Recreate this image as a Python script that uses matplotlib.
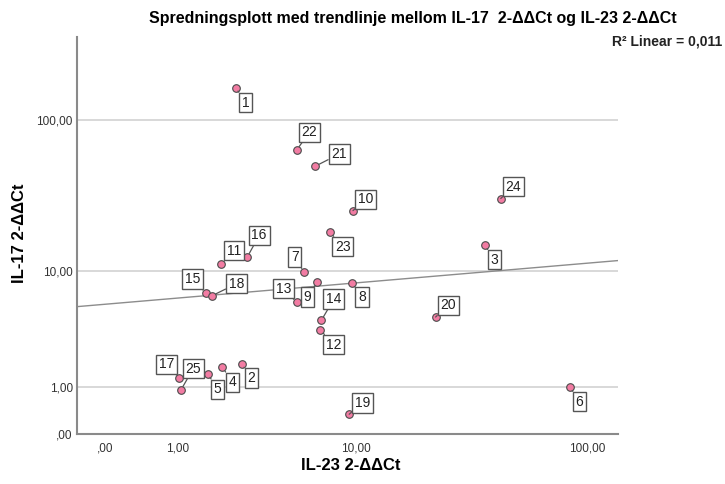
import matplotlib.pyplot as plt
import numpy as np

plt.rcParams['font.family'] = ['Liberation Sans', 'DejaVu Sans']

# case numbers and values (IL-23 on x, IL-17 on y)
case_ids = [1, 2, 3, 4, 5, 6, 7, 8, 9, 10, 11, 12, 13, 14, 15, 16, 17, 18, 19, 20, 21, 22, 23, 24, 25]
il23 = [2.50, 2.70, 36.8, 2.08, 1.68, 84.2, 5.71, 9.62, 6.60, 9.72, 2.05, 6.85, 5.25,
        6.93, 1.62, 2.90, 1.04, 1.79, 9.34, 22.6, 6.48, 5.26, 7.61, 43.0, 1.07]
il17 = [162.0, 1.81, 15.06, 1.67, 1.42, 1.00, 9.84, 8.22, 8.32, 25.7, 11.14, 3.62, 5.94,
        4.33, 6.96, 12.46, 1.28, 6.65, 0.34, 4.59, 50.3, 64.0, 18.45, 30.9, 0.91]

# label offsets (pixels) from each point
label_dx = [9.5, 9.8, 9.7, 10.1, 9.7, 9.7, -9.3, 10, -9.5, 12.7, 12.3, 13.3, -13,
            12.3, -13, 12, -13, 24.4, 13, 12.7, 23.8, 12.5, 12.7, 12.7, 12.3]
label_dy = [-15, -14.1, -14.5, -15, -15.3, -14.7, 15, -14, -14.7, 11.2, 13.6, -14.7, 13.6,
            21.1, 14.2, 21.8, 13.7, 12, 11.3, 11.7, 12.1, 17.6, -14.4, 12, 21.5]

# fit line end points
trend_x = [-0.234, 133.5]
trend_y = [5.51, 11.81]

ticks = [0, 1, 10, 100]
tick_labels = [',00', '1,00', '10,00', '100,00']


def fwd(v):
    return np.log10(np.maximum(np.asarray(v, dtype=float) + 1, 1e-6))


def inv(v):
    return 10 ** np.asarray(v, dtype=float) - 1


fig = plt.figure(figsize=(7.25, 4.84), dpi=100)
ax = fig.add_axes([0.106, 0.103, 0.746, 0.82])

ax.set_xscale('function', functions=(fwd, inv))
ax.set_yscale('function', functions=(fwd, inv))
ax.set_xlim(-0.234, 133.5)
ax.set_ylim(0, 340)

for yv in [1, 10, 100]:
    ax.axhline(yv, color='#d2d2d2', lw=1.2, zorder=1)

ax.plot(trend_x, trend_y, color='#8c8c8c', lw=1, zorder=2)

ax.scatter(il23, il17, s=30, facecolor='#f27ca3', edgecolor='#4a4a4a',
           linewidth=0.8, zorder=4)

for i, cid in enumerate(case_ids):
    ax.annotate(str(cid), (il23[i], il17[i]),
                xytext=(label_dx[i], label_dy[i]), textcoords='offset pixels',
                ha='center', va='center', fontsize=10, color='#222222',
                bbox=dict(boxstyle='square,pad=0.2', fc='white', ec='#555555', lw=1),
                arrowprops=dict(arrowstyle='-', color='#555555', lw=0.9,
                                shrinkA=0, shrinkB=3),
                zorder=5)

ax.set_xticks(ticks)
ax.set_xticklabels(tick_labels)
ax.set_yticks(ticks)
ax.set_yticklabels(tick_labels)
ax.minorticks_off()
ax.tick_params(length=0, labelsize=8.5, labelcolor='#333333')
ax.tick_params(axis='x', pad=6)
ax.tick_params(axis='y', pad=3)

for s in ['top', 'right']:
    ax.spines[s].set_visible(False)
for s in ['left', 'bottom']:
    ax.spines[s].set_color('#8a8a8a')
    ax.spines[s].set_linewidth(1.5)

fig.text(413 / 725, 1 - 18 / 484, 'Spredningsplott med trendlinje mellom IL-17  2-ΔΔCt og IL-23 2-ΔΔCt',
         ha='center', va='center', fontsize=11.5, fontweight='bold')
fig.text(0.996, 1 - 42 / 484, 'R² Linear = 0,011', ha='right', va='center',
         fontsize=10, fontweight='bold', color='#222222')
fig.text(351 / 725, 1 - 466 / 484, 'IL-23 2-ΔΔCt', ha='center', va='center',
         fontsize=12, fontweight='bold')
fig.text(20 / 725, 1 - 233 / 484, 'IL-17 2-ΔΔCt', ha='center', va='center',
         rotation=90, fontsize=12, fontweight='bold')

plt.savefig('out.png', dpi=100)
plt.close()
